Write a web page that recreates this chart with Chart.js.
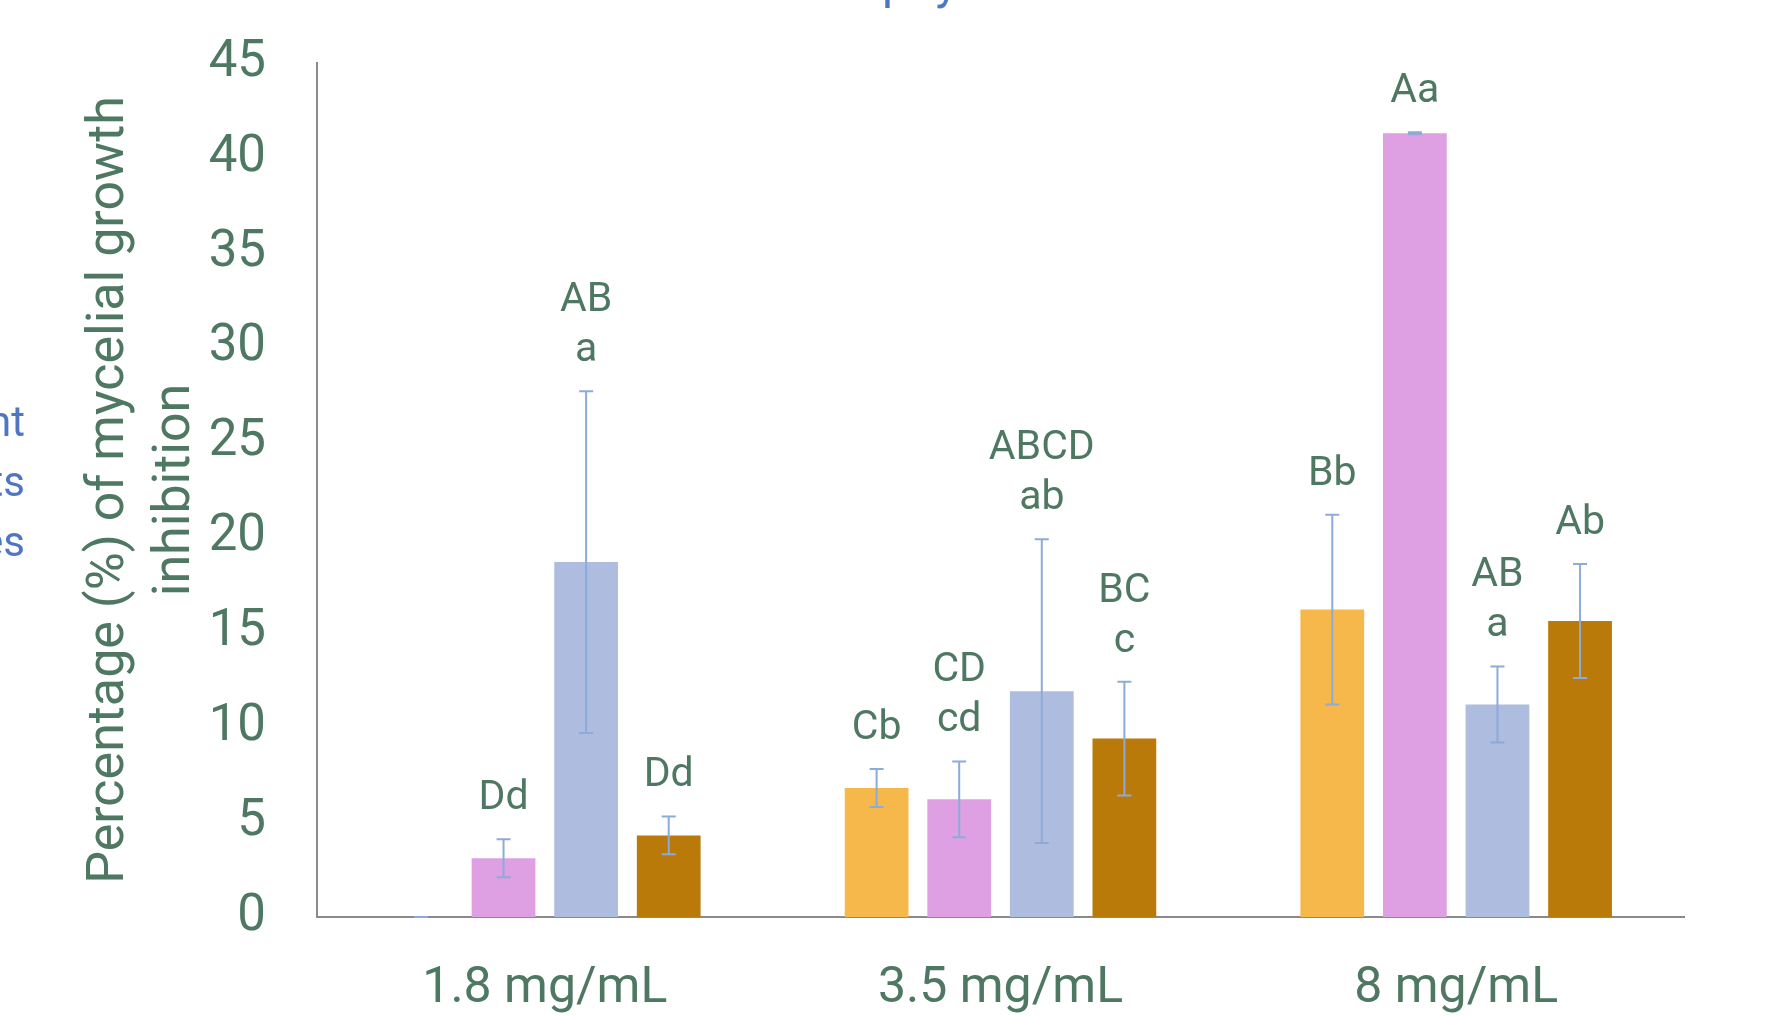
<!DOCTYPE html>
<html>
<head>
<meta charset="utf-8">
<script src="https://cdn.jsdelivr.net/npm/chart.js@4.4.0/dist/chart.umd.min.js"></script>
<style>
  html,body{margin:0;padding:0;background:#fff;overflow:hidden;}
  #wrap{position:relative;width:1787px;height:1016px;}
  canvas{position:absolute;left:0;top:0;}
  .frag{position:absolute;font-family:Roboto,sans-serif;color:#4f76c2;white-space:nowrap;}
  #side{left:-100px;top:392px;width:125px;text-align:right;font-size:42px;line-height:60px;}
  #topcut{left:882px;top:-47px;font-size:48px;}
</style>
</head>
<body>
<div id="wrap">
  <canvas id="chart" width="1787" height="1016"></canvas>
  <div class="frag" id="side">nt<br>ts<br>es</div>
  <div class="frag" id="topcut">phy</div>
</div>
<script>
/* data */
const categories = ['1.8 mg/mL', '3.5 mg/mL', '8 mg/mL'];
const seriesNames = ['Series 1', 'Series 2', 'Series 3', 'Series 4'];

const yellowVals = [0, 6.8, 16.2];
const yellowErr  = [0, 1.0, 5.0];
const yellowTags = ['', 'Cb', 'Bb'];

const pinkVals = [3.1, 6.2, 41.3];
const pinkErr  = [1.0, 2.0, 0.05];
const pinkTags = ['Dd', ['CD','cd'], 'Aa'];

const blueVals = [18.7, 11.9, 11.2];
const blueErr  = [9.0, 8.0, 2.0];
const blueTags = [['AB','a'], ['ABCD','ab'], ['AB','a']];

const brownVals = [4.3, 9.4, 15.6];
const brownErr  = [1.0, 3.0, 3.0];
const brownTags = ['Dd', ['BC','c'], 'Ab'];

const yTicks = [0, 5, 10, 15, 20, 25, 30, 35, 40, 45];

const TXT = '#4e7862';
const FONT = 'Roboto, "Noto Sans", sans-serif';

/* error bars + letter labels */
const extras = {
  id:'extras',
  afterDatasetsDraw(chart){
    const ctx = chart.ctx, y = chart.scales.y;
    chart.data.datasets.forEach((ds, i)=>{
      const meta = chart.getDatasetMeta(i);
      meta.data.forEach((bar, j)=>{
        const v = ds.data[j], e = ds.err[j];
        const yt = y.getPixelForValue(v + e), yb = y.getPixelForValue(v - e);
        ctx.save();
        ctx.strokeStyle = '#8eaad8';
        ctx.lineWidth = 2;
        ctx.beginPath();
        ctx.moveTo(bar.x, yt); ctx.lineTo(bar.x, yb);
        ctx.moveTo(bar.x-7, yt); ctx.lineTo(bar.x+7, yt);
        ctx.moveTo(bar.x-7, yb); ctx.lineTo(bar.x+7, yb);
        ctx.stroke();
        // letters
        const tag = ds.tags[j];
        if(tag){
          const lines = Array.isArray(tag) ? tag : [tag];
          ctx.fillStyle = TXT;
          ctx.font = '41px ' + FONT;
          ctx.textAlign = 'center';
          ctx.textBaseline = 'alphabetic';
          let base = yt - 30;
          for(let k=lines.length-1; k>=0; k--){
            ctx.fillText(lines[k], bar.x, base);
            base -= 50;
          }
        }
        ctx.restore();
      });
    });
  }
};

new Chart(document.getElementById('chart'), {
  type:'bar',
  data:{
    labels:categories,
    datasets:[
      { label:seriesNames[0], data:yellowVals, err:yellowErr, tags:yellowTags, backgroundColor:'#f6b84a' },
      { label:seriesNames[1], data:pinkVals,   err:pinkErr,   tags:pinkTags,   backgroundColor:'#dea0e3' },
      { label:seriesNames[2], data:blueVals,   err:blueErr,   tags:blueTags,   backgroundColor:'#aebddf' },
      { label:seriesNames[3], data:brownVals,  err:brownErr,  tags:brownTags,  backgroundColor:'#b97a09' }
    ]
  },
  options:{
    responsive:false,
    animation:false,
    devicePixelRatio:1,
    layout:{ padding:{ top:63, right:103, left:0, bottom:0 } },
    datasets:{ bar:{ categoryPercentage:0.725, barPercentage:0.772 } },
    plugins:{ legend:{display:false}, tooltip:{enabled:false} },
    scales:{
      x:{
        grid:{ display:false, drawTicks:false },
        border:{ display:true, color:'#8a8a8a', width:2 },
        ticks:{ color:TXT, font:{ family:FONT, size:50 }, padding:42, maxRotation:0 },
        afterFit(s){ s.height = 99; }
      },
      y:{
        min:0, max:45,
        afterBuildTicks(s){ s.ticks = yTicks.map(v=>({value:v})); },
        grid:{ display:false, drawTicks:false },
        border:{ display:true, color:'#8a8a8a', width:2 },
        ticks:{ color:TXT, font:{ family:FONT, size:51 }, padding:51 },
        title:{
          display:true,
          text:['Percentage (%) of mycelial growth', 'inhibition'],
          color:TXT,
          font:{ family:FONT, size:52, lineHeight:1.27 },
          padding:{ top:77, bottom:0 }
        },
        // keep the big tick padding from pushing the plot area down
        afterFit(s){ s.width = 317; s.paddingTop = 0; s.paddingBottom = 0; }
      }
    }
  },
  plugins:[extras]
});
</script>
</body>
</html>
